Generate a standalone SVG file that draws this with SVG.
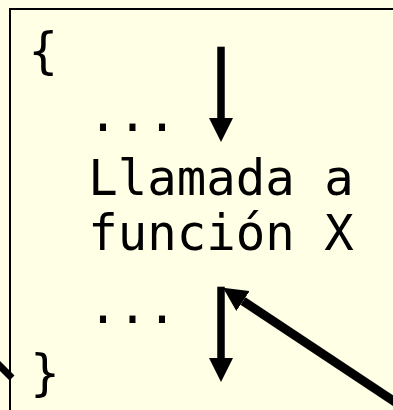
<svg xmlns="http://www.w3.org/2000/svg" width="393" height="410" viewBox="0 0 393 410">
<style>
.code{font-family:"DejaVu Sans Mono","Liberation Mono",monospace;font-size:49px;fill:#000}
.shaft{stroke:#000;stroke-width:7.5;fill:none}
</style>
<defs>
<marker id="ah" viewBox="0 0 24 24" refX="0" refY="12" markerWidth="24" markerHeight="24" markerUnits="userSpaceOnUse" orient="auto">
<path d="M0,0 L24,12 L0,24 Z" fill="#000"/>
</marker>
</defs>
<rect x="0" y="0" width="393" height="410" fill="#FFFFE6"/>
<g id="block">
<rect x="10" y="9" width="420" height="430" fill="#FFFFE6" stroke="#000" stroke-width="2"/>
<text class="code" x="28.5" y="68">{</text>
<text class="code" x="88.3" y="131">...</text>
<text class="code" x="88.3" y="195">Llamada a</text>
<text class="code" x="88.3" y="250">función X</text>
<text class="code" x="88.3" y="323">...</text>
<text class="code" x="30.3" y="390">}</text>
</g>
<g id="connectors">
<line class="shaft" x1="221" y1="46.7" x2="221" y2="118" marker-end="url(#ah)"/>
<line class="shaft" x1="221" y1="286.7" x2="221" y2="358" marker-end="url(#ah)"/>
<line class="shaft" x1="410" y1="412" x2="243" y2="301" style="stroke-width:9" marker-end="url(#ah)"/>
<line class="shaft" x1="-4" y1="362" x2="12" y2="378" style="stroke-width:7"/>
</g>
</svg>
